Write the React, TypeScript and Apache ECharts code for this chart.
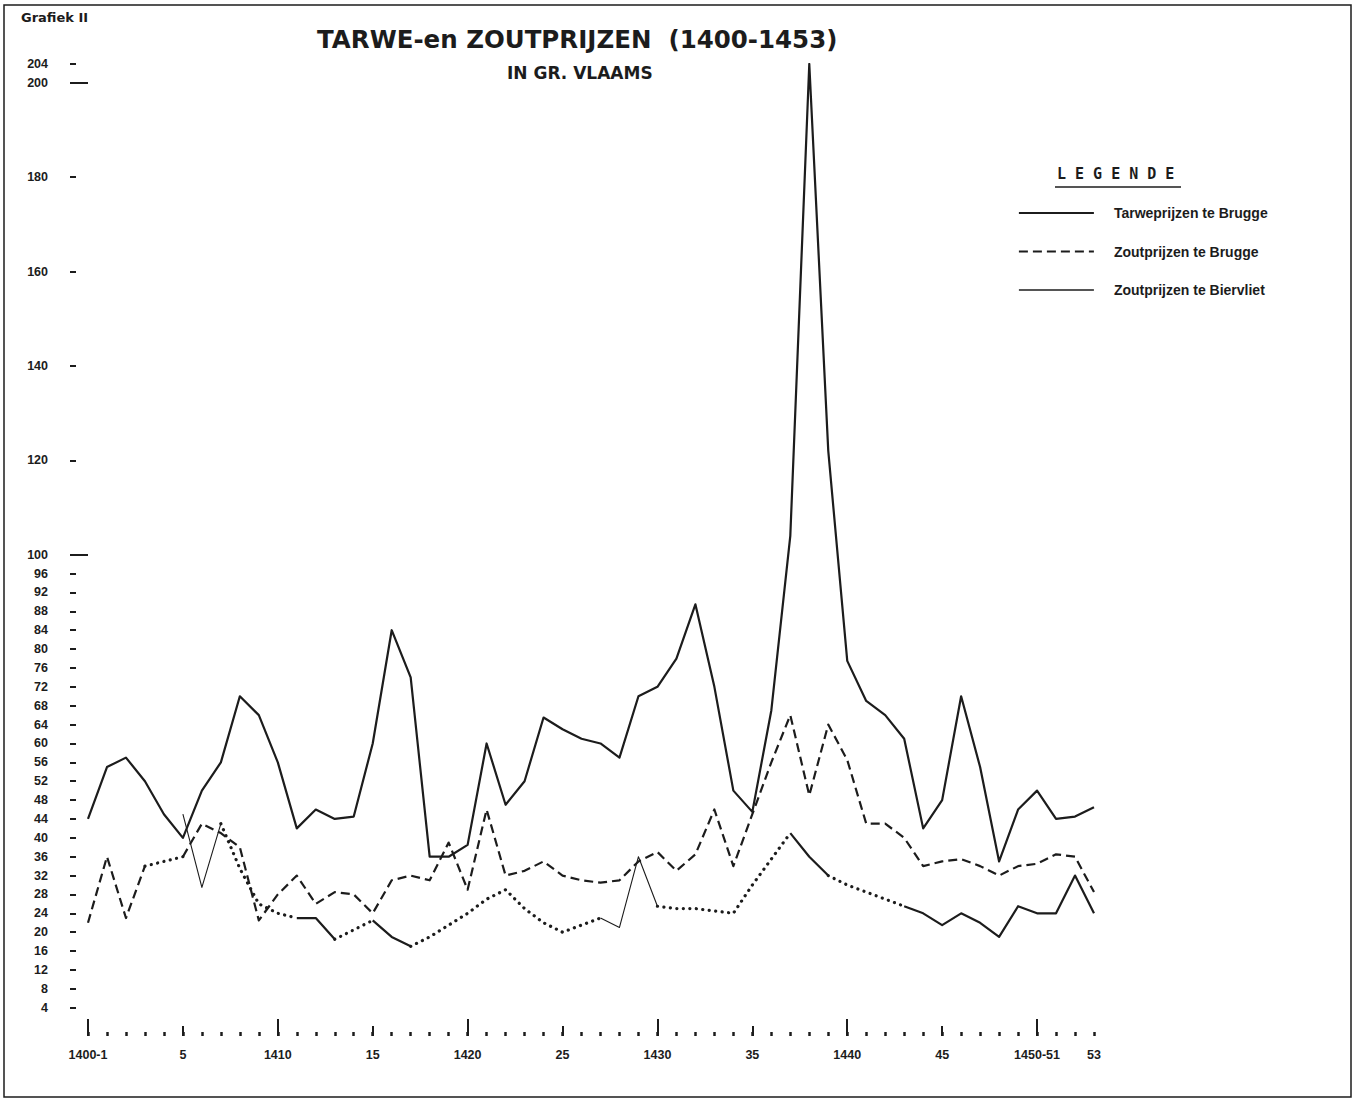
import React, { useEffect, useRef } from 'react';
import * as echarts from 'echarts';

const INK = '#1c1c1c';

const years = [
  1400, 1401, 1402, 1403, 1404, 1405, 1406, 1407, 1408, 1409,
  1410, 1411, 1412, 1413, 1414, 1415, 1416, 1417, 1418, 1419,
  1420, 1421, 1422, 1423, 1424, 1425, 1426, 1427, 1428, 1429,
  1430, 1431, 1432, 1433, 1434, 1435, 1436, 1437, 1438, 1439,
  1440, 1441, 1442, 1443, 1444, 1445, 1446, 1447, 1448, 1449,
  1450, 1451, 1452, 1453,
];

// Tarweprijzen te Brugge
const tarweBrugge = [
  44, 55, 57, 52, 45, 40, 50, 56, 70, 66,
  56, 42, 46, 44, 44.5, 60, 84, 74, 36, 36,
  38.5, 60, 47, 52, 65.5, 63, 61, 60, 57, 70,
  72, 78, 89.5, 72, 50, 45.5, 67, 104, 204, 122,
  77.5, 69, 66, 61, 42, 48, 70, 55, 35, 46,
  50, 44, 44.5, 46.5,
];

// Zoutprijzen te Brugge
const zoutBrugge = [
  22, 36, 23, 34, 35, 36, 43, 41, 38, 22.5,
  28, 32, 26, 28.5, 28, 24, 31, 32, 31, 39,
  29, 46, 32, 33, 35, 32, 31, 30.5, 31, 35,
  37, 33, 36.5, 46, 34, 45, 56, 66, 49, 64,
  56.5, 43, 43, 40, 34, 35, 35.5, 34, 32, 34,
  34.5, 36.5, 36, 28.5,
];

// Zoutprijzen te Biervliet
const zoutBiervliet = [
  null, null, null, null, null, 45, 29.5, 43, 33.5, 26,
  24, 23, 23, 18.5, 20.5, 22.5, 19, 17, 19, 21.5,
  24, 27, 29, 25, 22, 20, 21.5, 23, 21, 36,
  25.5, 25, 25, 24.5, 24, 30, 35.5, 41, 36, 32,
  30, 28.5, 27, 25.5, 24, 21.5, 24, 22, 19, 25.5,
  24, 24, 32, 24,
];

// line style of each stretch of a curve, as drawn in the original
const tarweSegments = [{ from: 1400, to: 1453, style: 'solid' }];
const zoutBruggeSegments = [
  { from: 1400, to: 1403, style: 'dashed' },
  { from: 1403, to: 1405, style: 'dotted' },
  { from: 1405, to: 1453, style: 'dashed' },
];
const zoutBiervlietSegments = [
  { from: 1405, to: 1407, style: 'thin' },
  { from: 1407, to: 1411, style: 'dotted' },
  { from: 1411, to: 1413, style: 'thick' },
  { from: 1413, to: 1415, style: 'dotted' },
  { from: 1415, to: 1417, style: 'thick' },
  { from: 1417, to: 1427, style: 'dotted' },
  { from: 1427, to: 1430, style: 'thin' },
  { from: 1430, to: 1437, style: 'dotted' },
  { from: 1437, to: 1439, style: 'thick' },
  { from: 1439, to: 1443, style: 'dotted' },
  { from: 1443, to: 1453, style: 'thick' },
];

const seriesNames = ['Tarweprijzen te Brugge', 'Zoutprijzen te Brugge', 'Zoutprijzen te Biervliet'];
const legendLineWidths = [1.8, 1.8, 1.3];

const yLabelValues = [
  4, 8, 12, 16, 20, 24, 28, 32, 36, 40, 44, 48, 52, 56, 60, 64, 68, 72, 76, 80,
  84, 88, 92, 96, 100, 120, 140, 160, 180, 200, 204,
];
const yLongTickValues = [100, 200];

const xLabelValues = [1400, 1405, 1410, 1415, 1420, 1425, 1430, 1435, 1440, 1445, 1450, 1453];
const xLabelTexts = ['1400-1', '5', '1410', '15', '1420', '25', '1430', '35', '1440', '45', '1450-51', '53'];
const xMediumTicks = [1405, 1415, 1425, 1435, 1445];
const xMajorTicks = [1400, 1410, 1420, 1430, 1440, 1450];

const lineStyles: Record<string, any> = {
  solid: { width: 2.2, type: 'solid' },
  thick: { width: 2.2, type: 'solid' },
  thin: { width: 1.1, type: 'solid' },
  dashed: { width: 2.2, type: [9, 5] },
  dotted: { width: 3.2, type: [0.1, 6.4], cap: 'round' },
};

function buildSeries(name: string, values: (number | null)[], segs: any[], z: number) {
  return segs.map((s) => ({
    name,
    type: 'line',
    symbol: 'none',
    z,
    silent: true,
    emphasis: { disabled: true },
    itemStyle: { color: INK },
    data: years
      .map((yr, i) => [yr, values[i]])
      .filter(([yr, v]) => v !== null && (yr as number) >= s.from && (yr as number) <= s.to),
    lineStyle: { color: INK, join: 'round', ...lineStyles[s.style] },
  }));
}

const LABEL_FONT = '"Liberation Sans", Arial, sans-serif';
const TITLE_FONT = '"DejaVu Sans", sans-serif';

export default function App() {
  const ref = useRef<HTMLDivElement>(null);

  useEffect(() => {
    document.body.style.margin = '0';
    if (!ref.current) return;
    const chart = echarts.init(ref.current, undefined, { renderer: 'svg' });

    const xBase = {
      type: 'value',
      min: 1400,
      max: 1453,
      position: 'bottom',
      gridIndex: 0,
      axisLine: { show: false, onZero: false },
      splitLine: { show: false },
    };
    const yBase = {
      type: 'value',
      min: -2,
      max: 204,
      position: 'left',
      gridIndex: 0,
      axisLine: { show: false },
      splitLine: { show: false },
    };

    chart.setOption({
      animation: false,
      backgroundColor: '#ffffff',
      title: [
        {
          text: 'Grafiek II',
          left: 21,
          top: 11,
          padding: 0,
          textStyle: { fontFamily: TITLE_FONT, fontSize: 13, fontWeight: 'bold', color: INK },
        },
        {
          text: 'TARWE-en ZOUTPRIJZEN  (1400-1453)',
          left: 317,
          top: 27,
          padding: 0,
          textStyle: { fontFamily: TITLE_FONT, fontSize: 24.5, fontWeight: 'bold', color: INK },
        },
        {
          text: 'IN GR. VLAAMS',
          left: 507,
          top: 64,
          padding: 0,
          textStyle: { fontFamily: TITLE_FONT, fontSize: 17, fontWeight: 'bold', color: INK },
        },
        {
          text: 'L E G E N D E',
          left: 1057,
          top: 166,
          padding: 0,
          textStyle: { fontFamily: '"DejaVu Sans Mono", monospace', fontSize: 15, fontWeight: 'bold', color: INK },
        },
      ],
      legend: {
        data: seriesNames.map((n, i) => ({ name: n, lineStyle: { width: legendLineWidths[i] } })),
        orient: 'vertical',
        left: 1018,
        top: 206,
        itemWidth: 75,
        itemHeight: 12,
        itemGap: 24.5,
        selectedMode: false,
        padding: 0,
        itemStyle: { opacity: 0 },
        textStyle: {
          fontFamily: LABEL_FONT,
          fontSize: 14,
          fontWeight: 'bold',
          color: INK,
          padding: [0, 0, 0, 15],
        },
      },
      grid: { left: 88, right: 261, top: 64, bottom: 65, containLabel: false },
      xAxis: [
        {
          ...xBase,
          axisTick: {
            show: true,
            inside: true,
            length: 10,
            customValues: xMediumTicks,
            lineStyle: { color: INK, width: 2 },
          },
          axisLabel: {
            show: true,
            customValues: xLabelValues,
            formatter: (v: number) => {
              const i = xLabelValues.indexOf(Math.round(v));
              return i >= 0 ? xLabelTexts[i] : '';
            },
            margin: 12,
            fontFamily: LABEL_FONT,
            fontSize: 12.5,
            fontWeight: 'bold',
            color: INK,
          },
        },
        {
          ...xBase,
          axisTick: {
            show: true,
            inside: true,
            length: 17,
            customValues: xMajorTicks,
            lineStyle: { color: INK, width: 2 },
          },
          axisLabel: { show: false },
        },
        {
          ...xBase,
          interval: 1,
          axisTick: { show: true, inside: true, length: 4, lineStyle: { color: INK, width: 2.5 } },
          axisLabel: { show: false },
        },
      ],
      yAxis: [
        {
          ...yBase,
          offset: 12,
          axisTick: {
            show: true,
            length: 6,
            customValues: yLabelValues,
            lineStyle: { color: INK, width: 2 },
          },
          axisLabel: {
            show: true,
            customValues: yLabelValues,
            margin: 28,
            fontFamily: LABEL_FONT,
            fontSize: 12.5,
            fontWeight: 'bold',
            color: INK,
          },
        },
        {
          ...yBase,
          offset: 0,
          axisTick: {
            show: true,
            length: 16,
            customValues: yLongTickValues,
            lineStyle: { color: INK, width: 2 },
          },
          axisLabel: { show: false },
        },
      ],
      graphic: [
        {
          type: 'rect',
          silent: true,
          shape: { x: 4, y: 5, width: 1347, height: 1092 },
          style: { fill: 'none', stroke: INK, lineWidth: 1.5 },
        },
        {
          type: 'line',
          silent: true,
          shape: { x1: 1055, y1: 187, x2: 1181, y2: 187 },
          style: { stroke: INK, lineWidth: 1.5 },
        },
      ],
      series: [
        ...buildSeries(seriesNames[0], tarweBrugge, tarweSegments, 3),
        ...buildSeries(seriesNames[1], zoutBrugge, zoutBruggeSegments, 2),
        ...buildSeries(seriesNames[2], zoutBiervliet, zoutBiervlietSegments, 1),
      ],
    });

    return () => chart.dispose();
  }, []);

  return <div ref={ref} style={{ width: 1355, height: 1101 }} />;
}
